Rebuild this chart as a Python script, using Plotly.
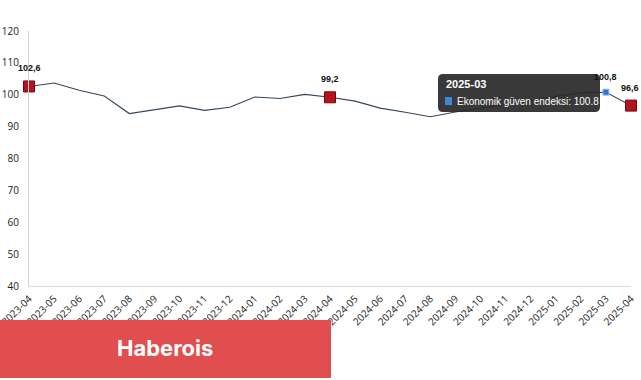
import plotly.graph_objects as go

months = ["2023-04", "2023-05", "2023-06", "2023-07", "2023-08", "2023-09", "2023-10",
          "2023-11", "2023-12", "2024-01", "2024-02", "2024-03", "2024-04", "2024-05",
          "2024-06", "2024-07", "2024-08", "2024-09", "2024-10", "2024-11", "2024-12",
          "2025-01", "2025-02", "2025-03", "2025-04"]
values = [102.6, 103.7, 101.4, 99.6, 94.1, 95.4, 96.5,
          95.1, 96.1, 99.3, 98.8, 100.1, 99.2, 98.0,
          95.8, 94.5, 93.1, 94.6, 95.9, 97.0, 98.1,
          99.5, 100.6, 100.8, 96.6]
highlight = ["2023-04", "2024-04", "2025-04"]
hover_point = "2025-03"
series_name = "Ekonomik güven endeksi"
y_ticks = [40, 50, 60, 70, 80, 90, 100, 110, 120]

W, H = 641, 380
ML, MR, MT, MB = 29, 10, 31, 94
PW, PH = W - ML - MR, H - MT - MB

def px(x):
    return (x - ML) / PW

def py(y):
    return (H - MB - y) / PH

fig = go.Figure()
fig.add_trace(go.Scatter(x=months, y=values, mode="lines",
                         line=dict(color="#34465a", width=1.1),
                         cliponaxis=False, hoverinfo="skip", showlegend=False))

hx = [m for m in months if m in highlight]
hy = [values[months.index(m)] for m in hx]
fig.add_trace(go.Scatter(x=hx, y=hy, mode="markers",
                         marker=dict(symbol="square", size=11, color="#b3141d",
                                     line=dict(color="#6e0b10", width=1)),
                         cliponaxis=False, hoverinfo="skip", showlegend=False))
hv = values[months.index(hover_point)]
fig.add_trace(go.Scatter(x=[hover_point], y=[hv], mode="markers",
                         marker=dict(symbol="square", size=6, color="#2a78c8",
                                     line=dict(color="#8fc0ee", width=1)),
                         cliponaxis=False, hoverinfo="skip", showlegend=False))

annotations = []
for m in highlight + [hover_point]:
    v = values[months.index(m)]
    annotations.append(dict(x=m, y=v, xref="x", yref="y",
                            text="<b>" + f"{v:.1f}".replace(".", ",") + "</b>",
                            showarrow=False, yshift=15 if m == hover_point else 18,
                            xshift=-1 if m == "2025-04" else 0,
                            font=dict(family="Liberation Sans, Arial", size=9, color="#111")))

shapes = []
# tooltip box
x0, x1, y0, y1, r = 438, 600, 74, 112, 5
path = (f"M {px(x0 + r)},{py(y0)} L {px(x1 - r)},{py(y0)} "
        f"Q {px(x1)},{py(y0)} {px(x1)},{py(y0 + r)} L {px(x1)},{py(y1 - r)} "
        f"Q {px(x1)},{py(y1)} {px(x1 - r)},{py(y1)} L {px(x0 + r)},{py(y1)} "
        f"Q {px(x0)},{py(y1)} {px(x0)},{py(y1 - r)} L {px(x0)},{py(y0 + r)} "
        f"Q {px(x0)},{py(y0)} {px(x0 + r)},{py(y0)} Z")
shapes.append(dict(type="path", path=path, xref="paper", yref="paper",
                   fillcolor="rgba(40,40,40,0.92)", line=dict(width=0), layer="above"))
shapes.append(dict(type="rect", xref="paper", yref="paper",
                   x0=px(445), x1=px(452), y0=py(97), y1=py(105),
                   fillcolor="#3a8ad8", line=dict(width=0), layer="above"))
# banner
shapes.append(dict(type="rect", xref="paper", yref="paper",
                   x0=px(0), x1=px(331), y0=py(320), y1=py(378),
                   fillcolor="#e04e50", line=dict(width=0), layer="above"))

annotations.append(dict(x=px(444), y=py(84), xref="paper", yref="paper",
                        xanchor="left", yanchor="middle", showarrow=False,
                        text="<b>" + hover_point + "</b>",
                        font=dict(family="Liberation Sans, Arial", size=11, color="#ffffff")))
annotations.append(dict(x=px(455), y=py(101), xref="paper", yref="paper",
                        xanchor="left", yanchor="middle", showarrow=False,
                        text=f"{series_name}: {hv}",
                        font=dict(family="Liberation Sans, Arial", size=10, color="#ffffff")))
annotations.append(dict(x=px(165), y=py(348), xref="paper", yref="paper",
                        xanchor="center", yanchor="middle", showarrow=False,
                        text="<b>Haberois</b>",
                        font=dict(family="Inter, Roboto, sans-serif", size=22, color="#ffffff")))

fig.update_layout(
    width=W, height=H,
    margin=dict(l=ML, r=MR, t=MT, b=MB, pad=0, autoexpand=False),
    paper_bgcolor="white", plot_bgcolor="white",
    hovermode=False,
    xaxis=dict(type="category", categoryorder="array", categoryarray=months,
               range=[0, len(months) - 1], tickangle=-45, automargin=False,
               showgrid=False, zeroline=False, showline=True, linecolor="#dcdcdc",
               linewidth=1, ticks="", ticklabelstandoff=2,
               tickfont=dict(family="Open Sans", size=10, color="#222")),
    yaxis=dict(range=[40, 120], tickvals=y_ticks, showgrid=False, zeroline=False,
               automargin=False,
               showline=True, linecolor="#d0d0d0", linewidth=1, ticks="",
               ticklabelstandoff=7,
               tickfont=dict(family="Open Sans", size=10, color="#222")),
    shapes=shapes, annotations=annotations,
)

fig.write_html("out.html")
